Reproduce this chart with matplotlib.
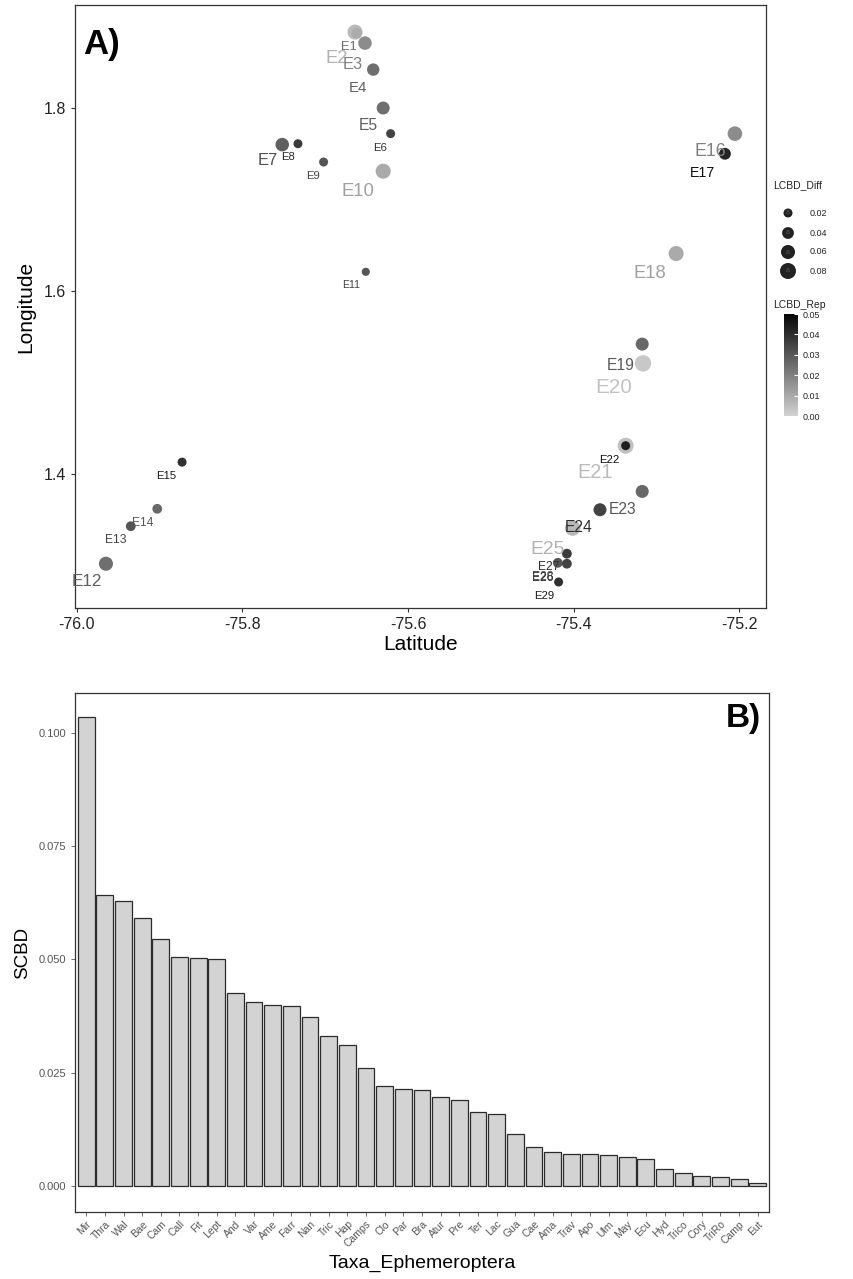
import numpy as np
import matplotlib
matplotlib.use('Agg')
import matplotlib.pyplot as plt
from matplotlib.colors import LinearSegmentedColormap, Normalize

plt.rcParams['font.family'] = ['Liberation Sans', 'DejaVu Sans']

# ---- panel A data: sites ----
sites = ['E%d' % i for i in range(1, 30)]
lon = [-75.662, -75.664, -75.652, -75.642, -75.630, -75.621, -75.752, -75.733, -75.702, -75.630,
       -75.651, -75.965, -75.935, -75.903, -75.873, -75.205, -75.217, -75.276, -75.317, -75.316,
       -75.337, -75.337, -75.317, -75.368, -75.401, -75.408, -75.408, -75.419, -75.418]
lat = [1.882, 1.883, 1.871, 1.842, 1.800, 1.772, 1.760, 1.761, 1.741, 1.731,
       1.621, 1.302, 1.343, 1.362, 1.413, 1.772, 1.750, 1.641, 1.542, 1.521,
       1.431, 1.431, 1.381, 1.361, 1.341, 1.313, 1.302, 1.303, 1.282]
lcbd_diff = [0.030, 0.070, 0.055, 0.045, 0.050, 0.020, 0.055, 0.020, 0.020, 0.070,
             0.015, 0.060, 0.025, 0.025, 0.020, 0.065, 0.040, 0.070, 0.050, 0.085,
             0.080, 0.020, 0.050, 0.050, 0.075, 0.025, 0.025, 0.025, 0.020]
lcbd_rep = [0.025, 0.008, 0.020, 0.028, 0.028, 0.040, 0.032, 0.042, 0.035, 0.012,
            0.035, 0.028, 0.035, 0.030, 0.045, 0.020, 0.048, 0.012, 0.030, 0.004,
            0.006, 0.048, 0.030, 0.040, 0.008, 0.042, 0.040, 0.035, 0.045]
# label offsets (pixels, as repelled in the original)
lab_dx = [-8, -18, -12, -15, -15, -11, -14, -10, -11, -25, -15, -19, -15, -15, -16,
          -25, -22, -26, -22, -29, -31, -16, -20, -21, -25, -24, -18, -15, -14]
lab_dy = [14, 26, 21, 18, 17, 14, 16, 13, 14, 20, 13, 18, 14, 14, 14,
          18, 19, 20, 21, 24, 27, 14, 18, 18, 21, 24, 3, 14, 14]

diff_breaks = [0.02, 0.04, 0.06, 0.08]
rep_ticks = [0.00, 0.01, 0.02, 0.03, 0.04, 0.05]

# ---- panel B data ----
taxa = ['Mir', 'Thra', 'Wal', 'Bae', 'Cam', 'Call', 'Fit', 'Lept', 'And', 'Var', 'Ame', 'Farr',
        'Nan', 'Tric', 'Hap', 'Camps', 'Clo', 'Par', 'Bra', 'Atur', 'Pre', 'Ter', 'Lac', 'Gua',
        'Cae', 'Ama', 'Trav', 'Apo', 'Ulm', 'May', 'Ecu', 'Hyd', 'Trico', 'Cory', 'TriRo',
        'Camp', 'Eut']
scbd = [0.1035, 0.0642, 0.0629, 0.0592, 0.0545, 0.0506, 0.0504, 0.0501, 0.0425, 0.0406,
        0.0400, 0.0397, 0.0372, 0.0330, 0.0312, 0.0260, 0.0220, 0.0214, 0.0212, 0.0197,
        0.0190, 0.0163, 0.0158, 0.0114, 0.0085, 0.0076, 0.0071, 0.0071, 0.0068, 0.0065,
        0.0060, 0.0037, 0.0029, 0.0021, 0.0019, 0.0015, 0.0007]

W, H = 854, 1279
cmap = LinearSegmentedColormap.from_list('greys', ['#d2d2d2', '#050505'])
norm = Normalize(vmin=0.0, vmax=0.05)

def size_of(d):
	dpx = np.sqrt(22.7 + 2917 * np.asarray(d))
	return (dpx * 0.72) ** 2

def font_of(d):
	return 6 + d * 105

fig = plt.figure(figsize=(W / 100, H / 100), dpi=100)

def fbox(l, t, r, b):
	return [l / W, 1 - b / H, (r - l) / W, (b - t) / H]

# ---------------- panel A ----------------
ax = fig.add_axes(fbox(75, 5, 766, 608))
ax.scatter(lon, lat, s=size_of(lcbd_diff), c=lcbd_rep, cmap=cmap, norm=norm,
           alpha=0.9, linewidths=0, zorder=3)
for i, name in enumerate(sites):
	ax.annotate(name, (lon[i], lat[i]), xytext=(lab_dx[i], -lab_dy[i]), textcoords='offset pixels',
	            ha='center', va='center', fontsize=font_of(lcbd_diff[i]),
	            color=cmap(norm(lcbd_rep[i])), zorder=4)
ax.set_xlim(-76.0024, -75.1674)
ax.set_ylim(1.2536, 1.9126)
ax.set_xticks([-76.0, -75.8, -75.6, -75.4, -75.2])
ax.set_xticklabels(['-76.0', '-75.8', '-75.6', '-75.4', '-75.2'])
ax.set_yticks([1.4, 1.6, 1.8])
ax.set_yticklabels(['1.4', '1.6', '1.8'])
ax.tick_params(labelsize=11.5, colors='#333333', length=3, width=0.8)
ax.tick_params(labelcolor='#222222')
for sp in ax.spines.values():
	sp.set_color('#333333')
	sp.set_linewidth(0.9)
ax.set_xlabel('Latitude', fontsize=15, labelpad=2)
ax.set_ylabel('Longitude', fontsize=15, labelpad=6)
ax.text(0.012, 0.935, 'A)', transform=ax.transAxes, fontsize=25, fontweight='bold', ha='left', va='center')

# size legend
lax = fig.add_axes(fbox(770, 170, 854, 290))
lax.set_xlim(770, 854)
lax.set_ylim(290, 170)
lax.axis('off')
lax.text(773, 185, 'LCBD_Diff', fontsize=7.5, ha='left', va='center', color='#222222')
key_y = [213, 233, 252, 271]
lax.scatter([788] * len(diff_breaks), key_y, s=size_of(diff_breaks), c='#222222', linewidths=0, clip_on=False)
for yk, b in zip(key_y, diff_breaks):
	lax.text(788, yk, 'a', fontsize=5, ha='center', va='center', color='#555555')
	lax.text(810, yk, '%.2f' % b, fontsize=6.5, ha='left', va='center', color='#222222')

# colour bar
fig.text(773 / W, 1 - 305 / H, 'LCBD_Rep', fontsize=7.5, ha='left', va='center', color='#222222')
cax = fig.add_axes(fbox(784, 314, 798, 416))
cb = fig.colorbar(matplotlib.cm.ScalarMappable(norm=norm, cmap=cmap), cax=cax, ticks=rep_ticks)
cb.ax.set_yticklabels(['%.2f' % t for t in rep_ticks])
cb.ax.tick_params(labelsize=6.5, length=3, width=0.8, color='white', direction='in', pad=3, labelcolor='#222222')
cb.outline.set_visible(False)

# ---------------- panel B ----------------
bx = fig.add_axes(fbox(75, 693, 769, 1212))
xpos = np.arange(len(taxa))
bx.bar(xpos, scbd, width=0.9, color='#d3d3d3', edgecolor='#2b2b2b', linewidth=0.9, zorder=2)
bx.set_xlim(-0.6, len(taxa) - 0.4)
bx.set_ylim(-0.00574, 0.1088)
bx.set_yticks([0.0, 0.025, 0.05, 0.075, 0.1])
bx.set_yticklabels(['0.000', '0.025', '0.050', '0.075', '0.100'])
bx.set_xticks(xpos)
bx.set_xticklabels(taxa, rotation=45, ha='right', rotation_mode='anchor')
bx.tick_params(axis='y', labelsize=8, colors='#555555', length=3, width=0.6)
bx.tick_params(axis='x', labelsize=7.5, colors='#555555', length=3, width=0.6, pad=2)
for sp in bx.spines.values():
	sp.set_color('#333333')
	sp.set_linewidth(0.9)
bx.set_xlabel('Taxa_Ephemeroptera', fontsize=14, labelpad=4)
bx.set_ylabel('SCBD', fontsize=13.5, labelpad=5)
bx.text(0.988, 0.95, 'B)', transform=bx.transAxes, fontsize=24, fontweight='bold', ha='right', va='center')

plt.savefig('out.png', dpi=100)
plt.close()
